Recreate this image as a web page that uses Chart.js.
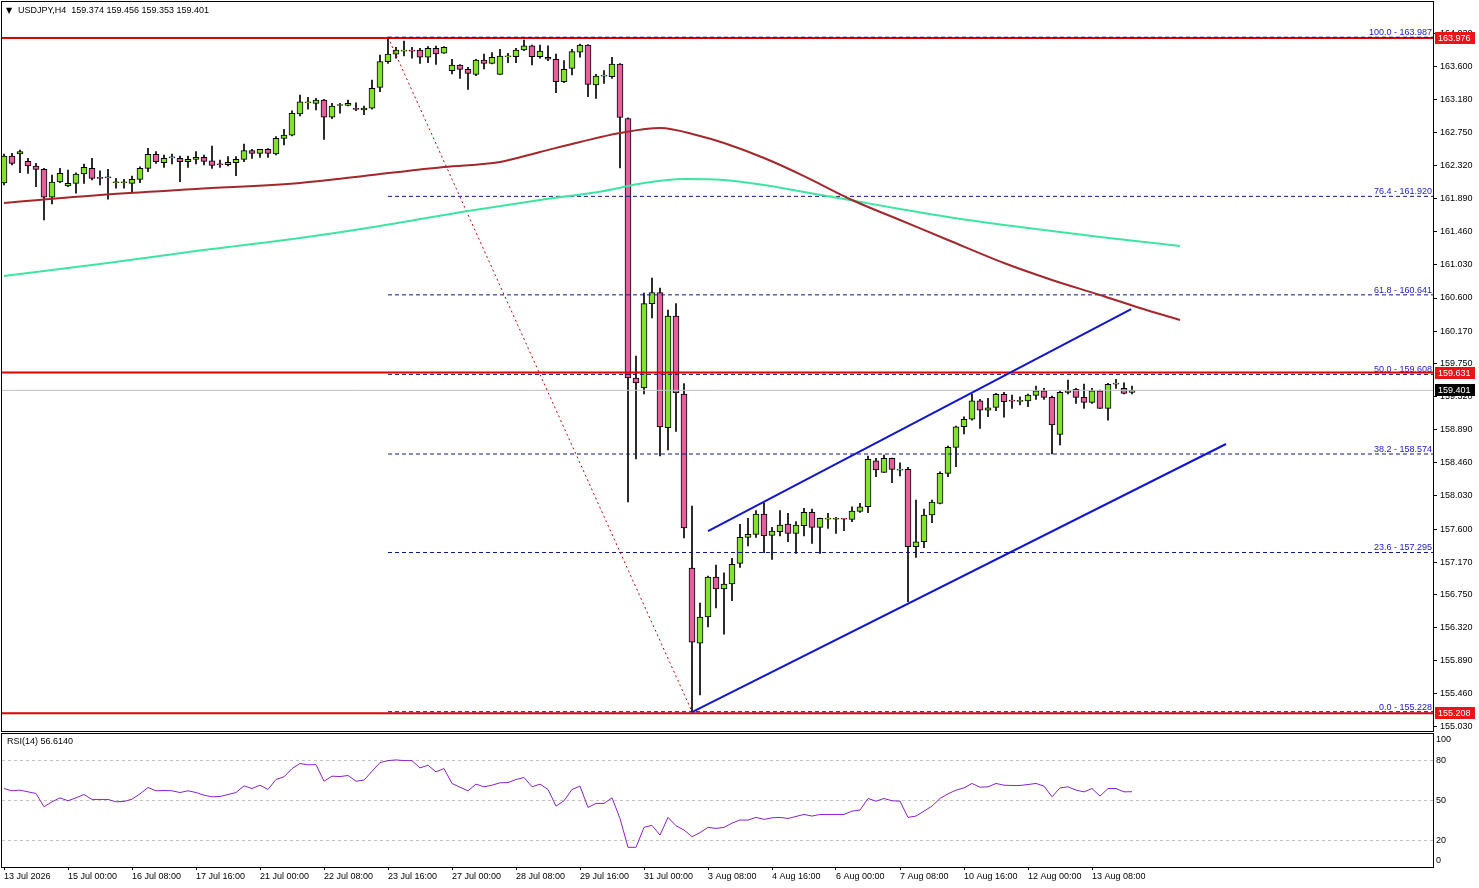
<!DOCTYPE html>
<html>
<head>
<meta charset="utf-8">
<title>USDJPY H4</title>
<script src="https://cdn.jsdelivr.net/npm/chart.js@4.4.1/dist/chart.umd.min.js"></script>
<style>
  html, body { margin: 0; padding: 0; background: #fff; overflow: hidden; }
  #wrap { position: relative; width: 1479px; height: 888px; }
  #price_chart { position: absolute; left: 0; top: 0; }
  #rsi_chart { position: absolute; left: 0; top: 733px; }
</style>
</head>
<body>
<div id="wrap">
  <canvas id="price_chart" width="1479" height="733"></canvas>
  <canvas id="rsi_chart" width="1479" height="155"></canvas>
</div>
<script>
  var symbolName = 'USDJPY,H4';

  // H4 candles, one entry per bar
  var opens = [162.093,162.444,162.470,162.375,162.314,162.271,161.908,162.106,162.054,162.089,
    162.210,162.284,162.158,162.165,162.097,162.097,162.089,162.141,162.284,162.466,
    162.357,162.420,162.414,162.370,162.401,162.427,162.383,162.333,162.331,162.357,
    162.401,162.513,162.479,162.531,162.470,162.674,162.713,162.989,163.134,163.128,
    163.171,162.947,163.100,163.102,163.053,163.041,163.064,163.336,163.669,163.765,
    163.806,163.810,163.821,163.726,163.843,163.778,163.552,163.626,163.570,163.505,
    163.691,163.648,163.505,163.732,163.734,163.821,163.876,163.734,163.726,163.700,
    163.409,163.583,163.791,163.886,163.366,163.481,163.474,163.639,162.931,159.561,
    159.431,160.528,160.671,158.917,160.366,159.353,157.093,156.119,156.457,156.976,
    156.821,156.886,157.154,157.492,157.531,157.795,157.518,157.565,157.665,157.544,
    157.643,157.817,157.622,157.728,157.727,157.732,157.726,157.830,157.889,158.487,
    158.336,158.518,158.364,158.375,157.370,157.435,157.782,157.934,158.323,158.661,
    158.928,159.025,159.266,159.145,159.180,159.349,159.264,159.258,159.262,159.336,
    159.396,159.310,158.830,159.375,159.414,159.310,159.245,159.396,159.167,159.481,
    159.427,159.374];
  var highs = [162.470,162.479,162.522,162.414,162.349,162.284,162.197,162.284,162.262,162.227,
    162.340,162.414,162.253,162.271,162.154,162.141,162.184,162.305,162.544,162.500,
    162.457,162.470,162.444,162.444,162.500,162.457,162.574,162.392,162.435,162.435,
    162.600,162.531,162.531,162.539,162.695,162.791,163.032,163.236,163.206,163.193,
    163.180,163.128,163.128,163.171,163.136,163.093,163.431,163.756,163.987,163.856,
    163.938,163.856,163.843,163.864,163.873,163.866,163.700,163.632,163.596,163.700,
    163.769,163.786,163.830,163.778,163.843,163.951,163.886,163.886,163.876,163.769,
    163.682,163.830,163.899,163.892,163.505,163.552,163.726,163.645,162.940,159.847,
    160.665,160.860,160.730,160.444,160.528,159.489,157.899,156.639,156.989,157.132,
    157.032,157.219,157.661,157.739,157.838,157.941,157.622,157.838,157.804,157.695,
    157.869,157.860,157.743,157.804,157.752,157.739,157.889,157.934,158.548,158.518,
    158.561,158.522,158.461,158.401,157.976,157.860,157.976,158.344,158.678,158.938,
    159.058,159.353,159.284,159.297,159.362,159.375,159.340,159.318,159.353,159.457,
    159.427,159.327,159.396,159.535,159.427,159.483,159.427,159.405,159.492,159.544,
    159.500,159.456];
  var lows = [162.067,162.327,162.227,162.219,162.045,161.613,161.821,162.097,162.045,161.960,
    162.089,162.132,162.067,161.882,162.025,162.025,161.967,162.097,162.240,162.349,
    162.297,162.340,162.110,162.297,162.340,162.327,162.284,162.297,162.314,162.188,
    162.370,162.414,162.427,162.427,162.457,162.587,162.704,162.964,163.051,163.041,
    162.661,162.928,162.999,163.093,163.032,162.980,163.051,163.279,163.648,163.713,
    163.743,163.713,163.648,163.656,163.635,163.775,163.509,163.453,163.310,163.487,
    163.574,163.639,163.503,163.656,163.656,163.812,163.626,163.713,163.682,163.266,
    163.396,163.496,163.726,163.214,163.193,163.388,163.453,162.288,157.951,158.509,
    159.353,160.340,158.548,158.626,158.866,157.483,155.228,155.444,156.327,156.574,
    156.236,156.669,157.102,157.379,157.492,157.292,157.206,157.509,157.435,157.284,
    157.509,157.414,157.284,157.609,157.544,157.578,157.695,157.817,157.812,158.279,
    158.334,158.201,158.288,156.656,157.232,157.357,157.682,157.925,158.279,158.409,
    158.834,159.015,158.908,159.058,159.136,159.051,159.167,159.210,159.188,159.284,
    159.284,158.574,158.691,159.353,159.232,159.167,159.232,159.165,159.015,159.427,
    159.353,159.353];
  var closes = [162.444,162.349,162.500,162.314,162.271,161.908,162.106,162.219,162.089,162.210,
    162.297,162.154,162.154,162.160,162.099,162.099,162.141,162.284,162.466,162.370,
    162.414,162.424,162.370,162.401,162.427,162.375,162.323,162.331,162.362,162.401,
    162.513,162.479,162.531,162.479,162.674,162.717,162.999,163.149,163.138,163.171,
    162.947,163.093,163.104,163.128,163.049,163.067,163.323,163.669,163.769,163.821,
    163.810,163.806,163.726,163.843,163.769,163.856,163.626,163.570,163.518,163.691,
    163.648,163.726,163.743,163.736,163.821,163.876,163.734,163.808,163.700,163.409,
    163.570,163.799,163.886,163.375,163.483,163.485,163.639,162.944,159.561,159.496,
    160.528,160.671,158.925,160.366,159.366,157.613,156.132,156.457,156.976,156.821,
    156.886,157.141,157.492,157.531,157.795,157.513,157.574,157.652,157.544,157.652,
    157.817,157.622,157.739,157.732,157.732,157.728,157.834,157.889,158.505,158.366,
    158.518,158.375,158.368,157.370,157.435,157.782,157.951,158.323,158.661,158.928,
    159.025,159.266,159.145,159.175,159.349,159.253,159.260,159.265,159.340,159.396,
    159.310,158.951,159.375,159.396,159.310,159.245,159.396,159.167,159.479,159.485,
    159.362,159.401];

  var rsiValues = [59,57.3,57.8,56.5,55.3,45.3,49,52,49.8,52,
    54.5,50.8,50.8,50.8,49,49.3,51,55,59.8,57.3,
    57.5,57.3,56,57.3,56,54,52.8,53,54.5,56,
    61,59,61.5,58.3,65.8,67.8,74,77.8,76.8,77,
    64.5,68.3,68,68.8,64.5,65.3,72,78.5,80,80.5,
    80,80,74.5,76.5,71.5,74,62.8,60,57.3,62.3,
    60.3,61.5,63.3,63.5,65.8,67.3,60.3,62.3,58.3,45.8,
    49.8,58.3,60.8,44.8,47.8,47.8,52,36.5,14.8,14.8,
    29.8,31.3,24,37.3,31,27.8,22.8,25.8,29.8,29,
    29.8,33,35.3,35.3,37.3,35.8,37,37.3,36.5,38,
    39.5,38.3,39.5,39.5,39.5,39.5,42,42.8,51.5,49.5,
    51.5,49.8,49.5,37.3,38.3,42,45.8,51.5,55,57.8,
    59.5,62.8,60,60.3,62.8,61.5,61.3,61.3,62,62.8,
    60.8,52.8,59.5,60.3,57.8,56.5,59,53.3,59,59,
    56.5,56.614];

  // moving averages, read at a few bars
  var maSlowBars = [0,12,24,37,46,55,62,67,72,77,82,87,90,95,100,106,112,118,125,131,137,142,147];
  var maSlowValues = [161.834,161.938,162.015,162.093,162.197,162.301,162.366,162.496,162.626,162.743,162.808,162.704,
    162.613,162.418,162.184,161.873,161.613,161.353,161.054,160.834,160.639,160.470,160.314];
  var maFastBars = [0,12,24,37,47,58,67,75,80,85,90,95,100,105,112,118,125,131,137,147];
  var maFastValues = [160.886,161.041,161.210,161.379,161.535,161.730,161.873,161.989,162.093,162.145,
    162.132,162.067,161.976,161.886,161.756,161.652,161.548,161.470,161.392,161.275];

  // fibonacci retracement of the 48 -> 86 swing
  var fibRatios = ['100.0', '76.4', '61.8', '50.0', '38.2', '23.6', '0.0'];
  var fibPrices = [163.987, 161.920, 160.641, 159.608, 158.574, 157.295, 155.228];
  var fibSwingBars = [48, 86];
  var fibSwingPrices = [163.987, 155.228];

  var channelUpperBars = [88, 140.9];
  var channelUpperPrices = [157.574, 160.457];
  var channelLowerBars = [86, 152.75];
  var channelLowerPrices = [155.223, 158.704];

  var redLevels = [163.976, 159.631, 155.208];
  var lastPrice = 159.401;

  var xTickBars = [0, 8, 16, 24, 32, 40, 48, 56, 64, 72, 80, 88, 96, 104, 112, 120, 128, 136];
  var xTickLabels = ['13 Jul 2026', '15 Jul 00:00', '16 Jul 08:00', '17 Jul 16:00', '21 Jul 00:00', '22 Jul 08:00',
    '23 Jul 16:00', '27 Jul 00:00', '28 Jul 08:00', '29 Jul 16:00', '31 Jul 00:00', '3 Aug 08:00',
    '4 Aug 16:00', '6 Aug 00:00', '7 Aug 08:00', '10 Aug 16:00', '12 Aug 00:00', '13 Aug 08:00'];
  var priceTicks = [164.030, 163.600, 163.180, 162.750, 162.320, 161.890, 161.460, 161.030, 160.600, 160.170, 159.750,
    159.320, 158.890, 158.460, 158.030, 157.600, 157.170, 156.750, 156.320, 155.890, 155.460, 155.030];
  var rsiTicks = [20, 50, 80];

  var xMin = -0.25, xMax = 178.625;
  var yMin = 154.977, yMax = 164.444;

  Chart.defaults.font.family = '"Liberation Sans", Arial, sans-serif';
  Chart.defaults.font.size = 9;
  Chart.defaults.color = '#000';

  var wickData = [], upData = [], downData = [];
  closes.forEach(function(c, i) {
    wickData.push({x: i, y: [lows[i], highs[i]]});
    var body = {x: i, y: [opens[i], c]};
    if (c >= opens[i]) upData.push(body); else downData.push(body);
  });

  function lineSet(xs, ys, color, width, dash, smooth) {
    return {
      type: 'line',
      data: xs.map(function(x, k) { return {x: x, y: ys[k]}; }),
      borderColor: color,
      borderWidth: width,
      borderDash: dash || [],
      pointRadius: 0,
      fill: false,
      tension: 0,
      cubicInterpolationMode: smooth ? 'monotone' : 'default',
      order: 0
    };
  }

  var priceSets = [
    {label: 'wicks', data: wickData, backgroundColor: '#000', barThickness: 1, grouped: false, order: 3},
    {label: 'up', data: upData, backgroundColor: '#84e22a', borderColor: '#000', borderWidth: 1,
      borderSkipped: false, barThickness: 6, minBarLength: 1, grouped: false, order: 2},
    {label: 'down', data: downData, backgroundColor: '#e4609c', borderColor: '#000', borderWidth: 1,
      borderSkipped: false, barThickness: 6, minBarLength: 1, grouped: false, order: 2},
    lineSet(maSlowBars, maSlowValues, '#a3272b', 2, null, true),
    lineSet(maFastBars, maFastValues, '#3de4a2', 2, null, true),
    lineSet(fibSwingBars, fibSwingPrices, '#c80000', 1, [2, 3]),
    lineSet(channelUpperBars, channelUpperPrices, '#1016cc', 2),
    lineSet(channelLowerBars, channelLowerPrices, '#1016cc', 2),
    lineSet([xMin, xMax], [lastPrice, lastPrice], '#c0c0c0', 1)
  ];
  fibPrices.forEach(function(p) {
    priceSets.push(lineSet([fibSwingBars[0], xMax], [p, p], '#14148c', 1, [4, 3]));
  });
  redLevels.forEach(function(p) {
    priceSets.push(lineSet([xMin, xMax], [p, p], '#e00000', 2));
  });

  function priceTag(ctx, x, y, text, bg) {
    ctx.fillStyle = bg;
    ctx.fillRect(x, Math.round(y) - 6, 40, 12);
    ctx.fillStyle = '#fff';
    ctx.textAlign = 'left';
    ctx.textBaseline = 'middle';
    ctx.fillText(text, x + 3, Math.round(y) + 0.5);
  }

  var priceDecor = {
    id: 'priceDecor',
    afterDraw: function(chart) {
      var ctx = chart.ctx, a = chart.chartArea, ys = chart.scales.y;
      var last = closes.length - 1;
      ctx.save();
      ctx.strokeStyle = '#000';
      ctx.lineWidth = 1;
      ctx.strokeRect(a.left - 0.5, a.top - 0.5, a.right - a.left + 1, a.bottom - a.top + 1);

      ctx.fillStyle = '#000';
      ctx.textBaseline = 'middle';
      ctx.font = '8px "DejaVu Sans"';
      ctx.fillText('\u25BC', 6, 11);
      ctx.font = '9px "Liberation Sans"';
      ctx.fillText(symbolName + '  ' + [opens[last], highs[last], lows[last], closes[last]].map(function(v) {
        return v.toFixed(3);
      }).join(' '), 18, 11);

      ctx.fillStyle = '#2020cc';
      ctx.textAlign = 'right';
      ctx.textBaseline = 'bottom';
      fibRatios.forEach(function(r, k) {
        ctx.fillText(r + ' - ' + fibPrices[k].toFixed(3), a.right - 1, ys.getPixelForValue(fibPrices[k]));
      });

      redLevels.forEach(function(p) {
        priceTag(ctx, a.right + 2, ys.getPixelForValue(p), p.toFixed(3), '#ec1414');
      });
      priceTag(ctx, a.right + 2, ys.getPixelForValue(lastPrice), lastPrice.toFixed(3), '#000');
      ctx.restore();
    }
  };

  var priceChart = new Chart(document.getElementById('price_chart'), {
    type: 'bar',
    data: {datasets: priceSets},
    plugins: [priceDecor],
    options: {
      responsive: false,
      animation: false,
      events: [],
      layout: {padding: {top: 2, left: 2, bottom: 2, right: 0}},
      plugins: {legend: {display: false}, tooltip: {enabled: false}},
      scales: {
        x: {type: 'linear', min: xMin, max: xMax, offset: false, display: false},
        y: {
          position: 'right',
          min: yMin,
          max: yMax,
          afterBuildTicks: function(scale) {
            scale.ticks = priceTicks.map(function(v) { return {value: v}; });
          },
          afterFit: function(scale) {
            scale.width = 46;
            scale.paddingTop = 0;
            scale.paddingBottom = 0;
          },
          ticks: {padding: 3, callback: function(v) { return Number(v).toFixed(3); }},
          grid: {drawOnChartArea: false, tickLength: 4, tickColor: '#000'},
          border: {display: true, color: '#000'}
        }
      }
    }
  });

  var rsiDecor = {
    id: 'rsiDecor',
    afterDraw: function(chart) {
      var ctx = chart.ctx, a = chart.chartArea, ys = chart.scales.y;
      ctx.save();
      ctx.strokeStyle = '#000';
      ctx.lineWidth = 1;
      ctx.strokeRect(a.left - 0.5, a.top - 0.5, a.right - a.left + 1, a.bottom - a.top + 1);
      ctx.fillStyle = '#000';
      ctx.font = '9px "Liberation Sans"';
      ctx.textBaseline = 'middle';
      ctx.fillText('RSI(14) ' + rsiValues[rsiValues.length - 1].toFixed(4), 7, a.top + 8);
      ctx.fillText('100', a.right + 3, ys.getPixelForValue(100) + 6);
      ctx.fillText('0', a.right + 3, ys.getPixelForValue(0) - 6);
      ctx.restore();
    }
  };

  var rsiChart = new Chart(document.getElementById('rsi_chart'), {
    type: 'line',
    data: {
      datasets: [{
        data: rsiValues.map(function(v, i) { return {x: i, y: v}; }),
        borderColor: '#8a22cc',
        borderWidth: 1,
        pointRadius: 0,
        tension: 0
      }]
    },
    plugins: [rsiDecor],
    options: {
      responsive: false,
      animation: false,
      events: [],
      layout: {padding: {top: 1, left: 2, bottom: 0, right: 0}},
      plugins: {legend: {display: false}, tooltip: {enabled: false}},
      scales: {
        x: {
          type: 'linear',
          min: xMin,
          max: xMax,
          offset: false,
          afterBuildTicks: function(scale) {
            scale.ticks = xTickBars.map(function(v) { return {value: v}; });
          },
          afterFit: function(scale) {
            scale.height = 21;
            scale.paddingLeft = 0;
            scale.paddingRight = 0;
          },
          ticks: {
            autoSkip: false,
            maxRotation: 0,
            align: 'start',
            padding: 1,
            callback: function(v) { return xTickLabels[xTickBars.indexOf(v)]; }
          },
          grid: {drawOnChartArea: false, tickLength: 3, tickColor: '#000'},
          border: {display: false}
        },
        y: {
          position: 'right',
          min: 0,
          max: 100,
          afterBuildTicks: function(scale) {
            scale.ticks = rsiTicks.map(function(v) { return {value: v}; });
          },
          afterFit: function(scale) {
            scale.width = 46;
            scale.paddingTop = 0;
            scale.paddingBottom = 0;
          },
          ticks: {padding: 3},
          grid: {drawTicks: false, color: '#c4c4c4'},
          border: {display: false, dash: [3, 3]}
        }
      }
    }
  });
</script>
</body>
</html>
